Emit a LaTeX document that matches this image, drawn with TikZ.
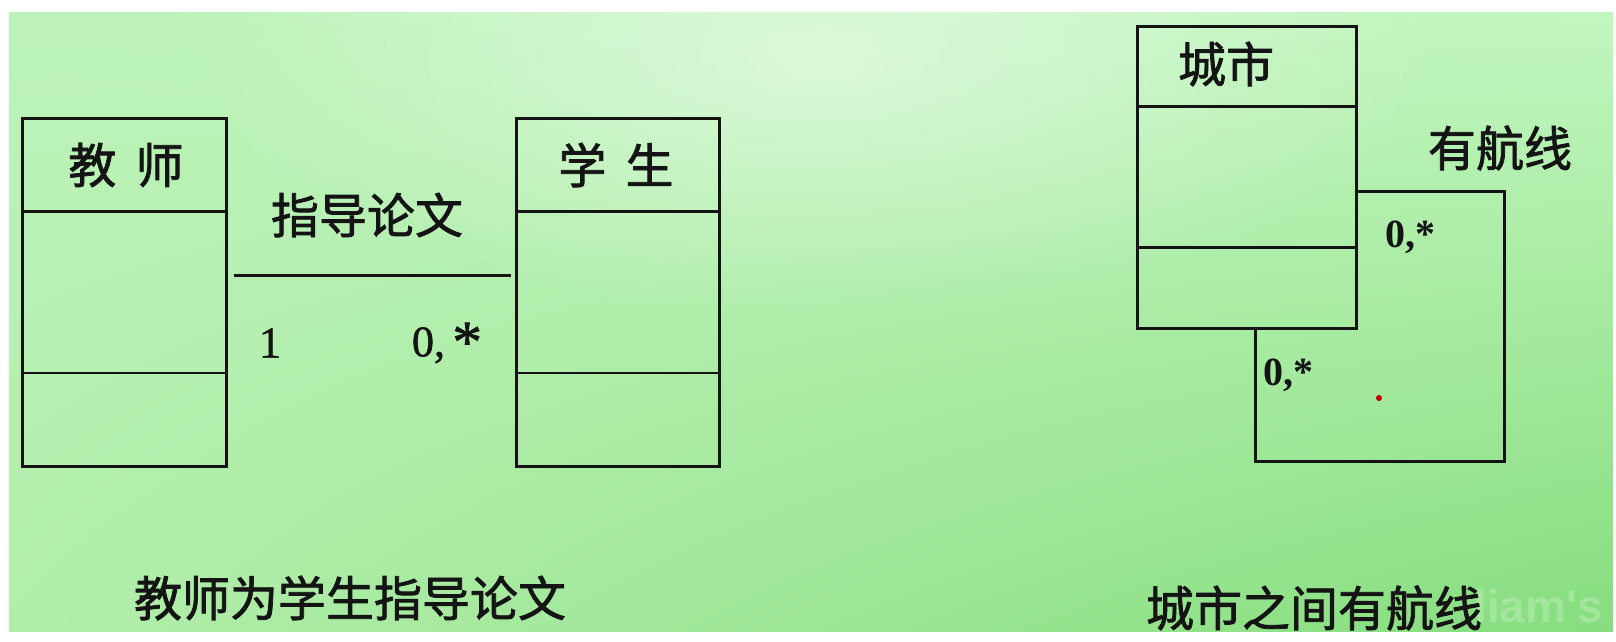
\documentclass[tikz,border=0pt]{standalone}
\usepackage{fontspec}
\newfontfamily\cjk{Noto Sans CJK SC}[FakeBold=1.6]
\newfontfamily\serifr{Liberation Serif}[FakeBold=1.2]
\newfontfamily\serifb{Liberation Serif}
\newfontfamily\sansw{Liberation Sans}
\usetikzlibrary{calc,shadings,fadings}
\tikzfading[name=softglow, inner color=transparent!0, outer color=transparent!100]
\definecolor{bgUL}{HTML}{BDF3BA}
\definecolor{bgUR}{HTML}{C2F6BF}
\definecolor{bgLL}{HTML}{B2EEAB}
\definecolor{bgLR}{HTML}{86DD7E}
\definecolor{ink}{HTML}{141414}
\tikzset{
  umlbox/.style={draw=ink, line width=2.7pt, rectangle, inner sep=0pt},
  divider/.style={draw=ink, line width=2.7pt},
  assoc/.style={draw=ink, line width=2.7pt},
  cjklabel/.style={text=ink, font=\cjk\fontsize{48}{52}\selectfont, inner sep=0pt},
  multleft/.style={text=ink, font=\serifr\fontsize{44}{46}\selectfont, inner sep=0pt},
  multright/.style={text=ink, font=\serifb\bfseries\fontsize{40}{42}\selectfont, inner sep=0pt},
}
\begin{document}
\begin{tikzpicture}[x=1pt,y=-1pt]
\useasboundingbox (0,0) rectangle (1616,641);
\fill[white] (0,0) rectangle (1616,641);
\shade[upper left=bgUL, upper right=bgUR, lower left=bgLL, lower right=bgLR] (9,12) rectangle (1613,631);
\begin{scope}
\clip (9,12) rectangle (1613,631);
\fill[white, opacity=0.45, path fading=softglow] (820,60) ellipse (620pt and 260pt);
\end{scope}

% teacher box
\node[umlbox, minimum width=204pt, minimum height=348pt] (teacher) at (124.7,292.7) {};
\draw[divider] (teacher.west |- 0,211.3) -- (teacher.east |- 0,211.3);
\draw[divider] (teacher.west |- 0,373.1) -- (teacher.east |- 0,373.1);
\node[cjklabel] (tname) at (126,165) {教\hspace{0.4em}师};

% student box
\node[umlbox, minimum width=203pt, minimum height=348pt] (student) at (617.8,292.7) {};
\draw[divider] (student.west |- 0,211.3) -- (student.east |- 0,211.3);
\draw[divider] (student.west |- 0,373.1) -- (student.east |- 0,373.1);
\node[cjklabel] (sname) at (616,165) {学\hspace{0.4em}生};

% association
\draw[assoc, shorten <=6pt, shorten >=4pt] (teacher.east |- 0,275.2) -- (student.west |- 0,275.2);
\node[cjklabel] (alabel) at (367,215) {指导论文};
\node[multleft] (m1) at (270,343) {1};
\node[multleft] (m2) at (447,343) {0,\,\raisebox{-0.12em}{\scalebox{1.35}{*}}};
\node[cjklabel] (cap1) at (350,598) {教师为学生指导论文};

% city box
\node[umlbox, minimum width=218.5pt, minimum height=302pt] (city) at (1247,177.8) {};
\draw[divider] (city.west |- 0,106.2) -- (city.east |- 0,106.2);
\draw[divider] (city.west |- 0,247.3) -- (city.east |- 0,247.3);
\node[cjklabel] (cname) at (1226,64) {城市};

% self association
\coordinate (lc1) at (1504.7,191.7);
\coordinate (lc2) at (1504.7,461.7);
\coordinate (lc3) at (1255.3,461.7);
\draw[assoc] (city.east |- lc1) -- (lc1) -- (lc2) -- (lc3) -- (lc3 |- city.south);
\node[cjklabel] (rlabel) at (1500,148) {有航线};
\node[multright] (m3) at (1410,237) {0,*};
\node[multright] (m4) at (1288,375) {0,*};

% watermark and caption
\node[text=white, opacity=0.22, font=\sansw\bfseries\fontsize{46}{48}\selectfont, inner sep=0pt, anchor=east] (wm) at (1603,606) {liam's};
\node[cjklabel] (cap2) at (1314,608) {城市之间有航线};

% cursor dot
\fill[red!75!black] (1379,398) circle (3pt);
\end{tikzpicture}
\end{document}
